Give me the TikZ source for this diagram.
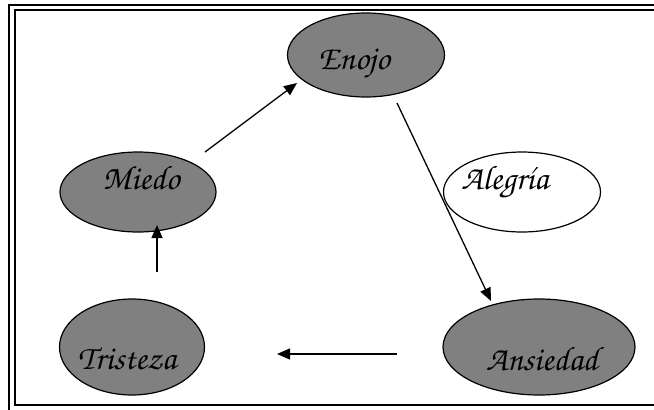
\documentclass[tikz,border=0pt]{standalone}
\usepackage[T1,TU]{fontenc}
\usetikzlibrary{shapes.geometric,arrows.meta}
\newcommand\chancery{\fontencoding{T1}\fontfamily{pzc}\fontseries{mb}\fontshape{it}\fontsize{34}{40}\selectfont}
\definecolor{mood}{RGB}{128,128,128}
\tikzset{
  x=1pt, y=-1pt,
  moodnode/.style={ellipse, draw=black, line width=1.2pt, fill=mood, inner sep=0pt},
  calmnode/.style={ellipse, draw=black, line width=1.2pt, fill=white, inner sep=0pt},
  moodtext/.style={anchor=base, inner sep=0pt, font=\chancery},
  flow/.style={line width=1.3pt, -{Triangle[length=13pt,width=11pt]}},
  frameline/.style={line width=2.2pt}
}
\begin{document}
\begin{tikzpicture}
\useasboundingbox (0,0) rectangle (654,410);
\clip (0,0) rectangle (654,410);
% double page frame, open to the right
\draw[frameline] (660,5) -- (9,5) -- (9,420);
\draw[line width=1.8pt] (660,10) -- (15,10) -- (15,405) -- (660,405);

% emotions
\node[moodnode, minimum width=157pt, minimum height=84pt] (enojo) at (366,55) {};
\node[moodnode, minimum width=156pt, minimum height=80pt] (miedo) at (138,192) {};
\node[calmnode, minimum width=157pt, minimum height=80pt] (alegria) at (522,192) {};
\node[moodnode, minimum width=145pt, minimum height=96pt] (tristeza) at (132,347) {};
\node[moodnode, minimum width=192pt, minimum height=96pt] (ansiedad) at (539,347) {};

\node[moodtext] (enojoT) at (354,69) {Enojo};
\node[moodtext] (miedoT) at (141,189) {Miedo};
\node[moodtext] (alegriaT) at (505,189) {Alegr\'{\i}a};
\node[moodtext] (tristezaT) at (127,369) {Tristeza};
\node[moodtext] (ansiedadT) at (542,370) {Ansiedad};

% cycle of arrows
\draw[flow] ([shift={(67,-40)}]miedo.center) -- ([shift={(-69,28)}]enojo.center);
\draw[flow] ([shift={(31,48)}]enojo.center) -- ([shift={(-48,-46)}]ansiedad.center);
\draw[flow] ([shift={(-142,7)}]ansiedad.center) -- ([shift={(145,7)}]tristeza.center);
\draw[flow] ([shift={(25,-75)}]tristeza.center) -- ([shift={(19,33)}]miedo.center);
\end{tikzpicture}
\end{document}
